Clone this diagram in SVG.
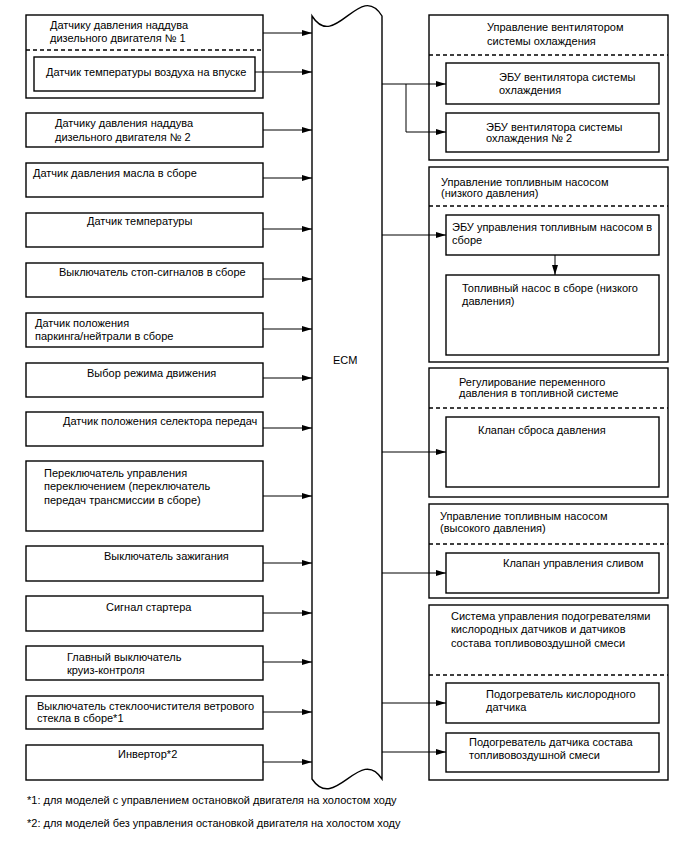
<svg xmlns="http://www.w3.org/2000/svg" width="688" height="852" viewBox="0 0 688 852">
<defs>
<style>
text{font-family:"Liberation Sans",Arial,sans-serif;font-size:11px;fill:#000}
.box{fill:#fff;stroke:#000;stroke-width:1.4}
.dash{stroke:#000;stroke-width:1.4;stroke-dasharray:4,3;fill:none}
.con{stroke:#000;stroke-width:1;fill:none;marker-end:url(#ah)}
.ln{stroke:#000;stroke-width:1;fill:none}
</style>
<marker id="ah" viewBox="0 0 10 6" refX="10" refY="3" markerWidth="10" markerHeight="6" markerUnits="userSpaceOnUse" orient="auto">
<path d="M0,0 L10,3 L0,6 Z" fill="#000"/>
</marker>
</defs>
<rect width="688" height="852" fill="#fff"/>

<g id="ecm">
<path class="box" d="M312,16 C335,52 360,-20 382,16 L382,779 C360,745 335,813 312,779 Z"/>
<text x="333" y="364">ECM</text>
</g>

<g id="in1">
<rect class="box" x="26" y="15" width="237" height="83"/>
<line class="dash" x1="26" y1="50" x2="263" y2="50"/>
<text x="50" y="29">Датчику давления наддува</text>
<text x="50" y="42">дизельного двигателя № 1</text>
</g>
<g id="in1a">
<rect class="box" x="34" y="57" width="221" height="34"/>
<text x="46" y="76">Датчик температуры воздуха на впуске</text>
</g>
<g id="in2">
<rect class="box" x="26" y="113" width="237" height="34"/>
<text x="55" y="127">Датчику давления наддува</text>
<text x="55" y="141">дизельного двигателя № 2</text>
</g>
<g id="in3">
<rect class="box" x="26" y="163" width="237" height="34"/>
<text x="33" y="177">Датчик давления масла в сборе</text>
</g>
<g id="in4">
<rect class="box" x="26" y="213" width="237" height="34"/>
<text x="87" y="225">Датчик температуры</text>
</g>
<g id="in5">
<rect class="box" x="26" y="263" width="237" height="34"/>
<text x="59" y="276">Выключатель стоп-сигналов в сборе</text>
</g>
<g id="in6">
<rect class="box" x="26" y="313" width="237" height="34"/>
<text x="35" y="327">Датчик положения</text>
<text x="35" y="340">паркинга/нейтрали в сборе</text>
</g>
<g id="in7">
<rect class="box" x="26" y="363" width="237" height="34"/>
<text x="87" y="377">Выбор режима движения</text>
</g>
<g id="in8">
<rect class="box" x="26" y="412" width="237" height="34"/>
<text x="63" y="425">Датчик положения селектора передач</text>
</g>
<g id="in9">
<rect class="box" x="26" y="461" width="237" height="70"/>
<text x="44" y="477">Переключатель управления</text>
<text x="44" y="490">переключением (переключатель</text>
<text x="44" y="504">передач трансмиссии в сборе)</text>
</g>
<g id="in10">
<rect class="box" x="26" y="546" width="237" height="35"/>
<text x="104" y="560">Выключатель зажигания</text>
</g>
<g id="in11">
<rect class="box" x="26" y="596" width="237" height="35"/>
<text x="106" y="611">Сигнал стартера</text>
</g>
<g id="in12">
<rect class="box" x="26" y="646" width="237" height="34"/>
<text x="67" y="661">Главный выключатель</text>
<text x="67" y="674">круиз-контроля</text>
</g>
<g id="in13">
<rect class="box" x="26" y="696" width="237" height="33"/>
<text x="37" y="710">Выключатель стеклоочистителя ветрового</text>
<text x="37" y="722">стекла в сборе*1</text>
</g>
<g id="in14">
<rect class="box" x="26" y="745" width="237" height="35"/>
<text x="118" y="758">Инвертор*2</text>
</g>

<g id="out1">
<rect class="box" x="429" y="15" width="239" height="145"/>
<line class="dash" x1="429" y1="55" x2="668" y2="55"/>
<text x="487" y="31">Управление вентилятором</text>
<text x="487" y="45">системы охлаждения</text>
</g>
<g id="out1a">
<rect class="box" x="446" y="63" width="213" height="41"/>
<text x="499" y="81">ЭБУ вентилятора системы</text>
<text x="499" y="94">охлаждения</text>
</g>
<g id="out1b">
<rect class="box" x="446" y="113" width="213" height="39"/>
<text x="486" y="131">ЭБУ вентилятора системы</text>
<text x="486" y="142">охлаждения № 2</text>
</g>
<g id="out2">
<rect class="box" x="429" y="167" width="239" height="195"/>
<line class="dash" x1="429" y1="206" x2="668" y2="206"/>
<text x="441" y="186">Управление топливным насосом</text>
<text x="441" y="197">(низкого давления)</text>
</g>
<g id="out2a">
<rect class="box" x="446" y="215" width="213" height="40"/>
<text x="452" y="231">ЭБУ управления топливным насосом в</text>
<text x="452" y="244">сборе</text>
</g>
<g id="out2b">
<rect class="box" x="446" y="275" width="213" height="80"/>
<text x="462" y="292">Топливный насос в сборе (низкого</text>
<text x="462" y="305">давления)</text>
</g>
<g id="out3">
<rect class="box" x="429" y="368" width="239" height="129"/>
<line class="dash" x1="429" y1="408" x2="668" y2="408"/>
<text x="459" y="386">Регулирование переменного</text>
<text x="459" y="397">давления в топливной системе</text>
</g>
<g id="out3a">
<rect class="box" x="446" y="417" width="213" height="70"/>
<text x="478" y="434">Клапан сброса давления</text>
</g>
<g id="out4">
<rect class="box" x="429" y="504" width="239" height="94"/>
<line class="dash" x1="429" y1="544" x2="668" y2="544"/>
<text x="440" y="520">Управление топливным насосом</text>
<text x="440" y="532">(высокого давления)</text>
</g>
<g id="out4a">
<rect class="box" x="446" y="553" width="213" height="40"/>
<text x="503" y="567">Клапан управления сливом</text>
</g>
<g id="out5">
<rect class="box" x="429" y="605" width="239" height="175"/>
<line class="dash" x1="429" y1="675" x2="668" y2="675"/>
<text x="451" y="620">Система управления подогревателями</text>
<text x="451" y="633">кислородных датчиков и датчиков</text>
<text x="451" y="647">состава топливовоздушной смеси</text>
</g>
<g id="out5a">
<rect class="box" x="446" y="683" width="213" height="40"/>
<text x="486" y="698">Подогреватель кислородного</text>
<text x="486" y="711">датчика</text>
</g>
<g id="out5b">
<rect class="box" x="446" y="733" width="213" height="39"/>
<text x="469" y="746">Подогреватель датчика состава</text>
<text x="469" y="759">топливовоздушной смеси</text>
</g>

<g id="connectors">
<line class="con" x1="263" y1="33" x2="312" y2="33"/>
<line class="con" x1="255" y1="72" x2="312" y2="72"/>
<line class="con" x1="263" y1="130" x2="312" y2="130"/>
<line class="con" x1="263" y1="178" x2="312" y2="178"/>
<line class="con" x1="263" y1="229" x2="312" y2="229"/>
<line class="con" x1="263" y1="279" x2="312" y2="279"/>
<line class="con" x1="263" y1="329" x2="312" y2="329"/>
<line class="con" x1="263" y1="378" x2="312" y2="378"/>
<line class="con" x1="263" y1="428" x2="312" y2="428"/>
<line class="con" x1="263" y1="496" x2="312" y2="496"/>
<line class="con" x1="263" y1="563" x2="312" y2="563"/>
<line class="con" x1="263" y1="613" x2="312" y2="613"/>
<line class="con" x1="263" y1="662" x2="312" y2="662"/>
<line class="con" x1="263" y1="712" x2="312" y2="712"/>
<line class="con" x1="263" y1="762" x2="312" y2="762"/>
<line class="con" x1="382" y1="84" x2="446" y2="84"/>
<path class="con" d="M406,84 L406,132 L446,132"/>
<line class="con" x1="382" y1="235" x2="446" y2="235"/>
<line class="con" x1="555" y1="255" x2="555" y2="275"/>
<line class="con" x1="382" y1="452" x2="446" y2="452"/>
<line class="con" x1="382" y1="573" x2="446" y2="573"/>
<line class="con" x1="382" y1="703" x2="446" y2="703"/>
<line class="con" x1="382" y1="752" x2="446" y2="752"/>
</g>

<text x="27" y="804">*1: для моделей с управлением остановкой двигателя на холостом ходу</text>
<text x="27" y="827">*2: для моделей без управления остановкой двигателя на холостом ходу</text>
</svg>
